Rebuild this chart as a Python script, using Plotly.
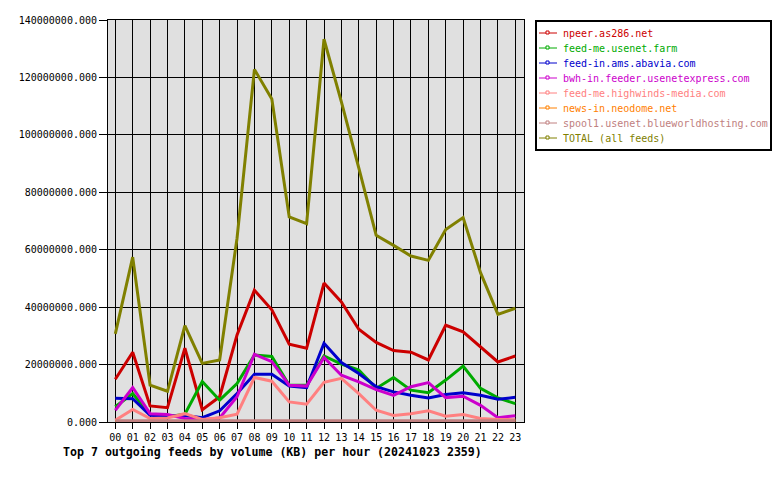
import plotly.graph_objects as go

hours = [f"{h:02d}" for h in range(24)]

npeer = [14.9, 24.3, 5.6, 5.0, 25.7, 4.3, 8.8, 30.3, 45.9, 39.1, 27.1, 25.7,
         48.4, 41.8, 32.3, 27.7, 24.9, 24.3, 21.6, 33.7, 31.4, 26.0, 20.9, 23.0]
usenet_farm = [5.3, 9.9, 2.7, 1.8, 2.7, 14.1, 7.6, 13.4, 23.3, 22.8, 12.8, 12.8,
               23.0, 20.2, 18.1, 11.7, 15.5, 11.1, 10.2, 14.6, 19.5, 11.7, 8.4, 6.4]
abavia = [8.3, 8.1, 2.3, 2.0, 2.3, 1.5, 3.9, 9.9, 16.6, 16.6, 12.5, 12.0,
          27.4, 20.7, 16.9, 12.3, 10.5, 9.3, 8.4, 9.6, 10.2, 9.3, 7.9, 8.6]
usenetexpress = [4.1, 12.0, 2.9, 2.6, 1.2, 0.8, 1.4, 8.8, 23.6, 21.0, 12.8, 12.5,
                 22.5, 16.3, 14.0, 11.3, 9.3, 12.3, 13.7, 8.5, 9.0, 5.8, 1.5, 2.2]
highwinds = [0.6, 4.4, 1.2, 1.4, 2.9, 0.9, 1.5, 2.7, 15.5, 14.2, 7.0, 6.2,
             13.8, 15.2, 9.9, 4.1, 2.3, 2.9, 3.9, 2.0, 2.6, 1.2, 0.9, 0.8]
neodome = [0.2] * 24
blueworld = [0.4] * 24
total = [30.7, 57.4, 12.8, 10.7, 33.6, 20.4, 21.6, 64.0, 122.8, 112.5, 71.4, 69.1,
         133.3, 111.5, 88.5, 65.0, 61.5, 57.8, 56.3, 67.0, 71.2, 52.0, 37.5, 39.6]

series = [
    ("npeer.as286.net", npeer, "#cc0000"),
    ("feed-me.usenet.farm", usenet_farm, "#00aa00"),
    ("feed-in.ams.abavia.com", abavia, "#0000cc"),
    ("bwh-in.feeder.usenetexpress.com", usenetexpress, "#cc00cc"),
    ("feed-me.highwinds-media.com", highwinds, "#ff8080"),
    ("news-in.neodome.net", neodome, "#ff8000"),
    ("spool1.usenet.blueworldhosting.com", blueworld, "#c08080"),
    ("TOTAL (all feeds)", total, "#808000"),
]

yticks = [0, 20, 40, 60, 80, 100, 120, 140]
ytick_text = [f"{v * 1000000:.3f}" for v in yticks]

mono = "DejaVu Sans Mono"
W, H = 780, 480
L, R, T, B = 108, 256, 20, 58
PW, PH = W - L - R, H - T - B


def px(xp):
    return (xp - L) / PW


def py(yp):
    return (H - B - yp) / PH


fig = go.Figure()
x = list(range(24))
for name, vals, col in series:
    fig.add_trace(go.Scatter(
        x=x, y=[v * 1e6 for v in vals], mode="lines", name=name,
        line=dict(color=col, width=3), showlegend=False,
    ))

# custom legend box (gnuplot-like compact spacing)
shapes = [dict(type="rect", xref="paper", yref="paper",
               x0=px(536), x1=px(771), y0=py(21), y1=py(150),
               line=dict(color="black", width=2), fillcolor="white", layer="above")]
annotations = []
for i, (name, vals, col) in enumerate(series):
    yc = 33 + 15 * i
    shapes.append(dict(type="line", xref="paper", yref="paper",
                       x0=px(539), x1=px(557), y0=py(yc), y1=py(yc),
                       line=dict(color=col, width=1), layer="above"))
    shapes.append(dict(type="rect", xref="paper", yref="paper",
                       x0=px(546), x1=px(549), y0=py(yc + 1), y1=py(yc - 2),
                       line=dict(color=col, width=1), fillcolor="white", layer="above"))
    annotations.append(dict(text=name, xref="paper", yref="paper",
                            x=px(561), y=py(yc), xanchor="left", yanchor="middle",
                            showarrow=False,
                            font=dict(family=mono, size=10, color=col)))

annotations.append(dict(
    text="<b>Top 7 outgoing feeds by volume (KB) per hour (20241023 2359)</b>",
    xref="paper", yref="paper", x=px(61), y=py(452),
    xanchor="left", yanchor="middle", showarrow=False,
    font=dict(family=mono, size=11.6, color="black")))

fig.update_layout(
    width=W, height=H,
    margin=dict(l=L, r=R, t=T, b=B),
    paper_bgcolor="white", plot_bgcolor="#e0e0e0",
    font=dict(family=mono, size=10, color="black"),
    showlegend=False,
    xaxis=dict(range=[-0.42, 23.5], tickvals=x, ticktext=hours,
               showgrid=True, gridcolor="black", gridwidth=1,
               showline=True, linecolor="black", linewidth=1, mirror=True,
               ticks="outside", ticklen=6, tickcolor="black", zeroline=False,
               tickfont=dict(family=mono, size=10)),
    yaxis=dict(range=[0, 140e6], tickvals=[v * 1e6 for v in yticks], ticktext=ytick_text,
               showgrid=True, gridcolor="black", gridwidth=1,
               showline=True, linecolor="black", linewidth=1, mirror=True,
               ticks="outside", ticklen=8, tickcolor="black", zeroline=False,
               tickfont=dict(family=mono, size=10)),
    shapes=shapes,
    annotations=annotations,
)

fig.write_html("out.html")
